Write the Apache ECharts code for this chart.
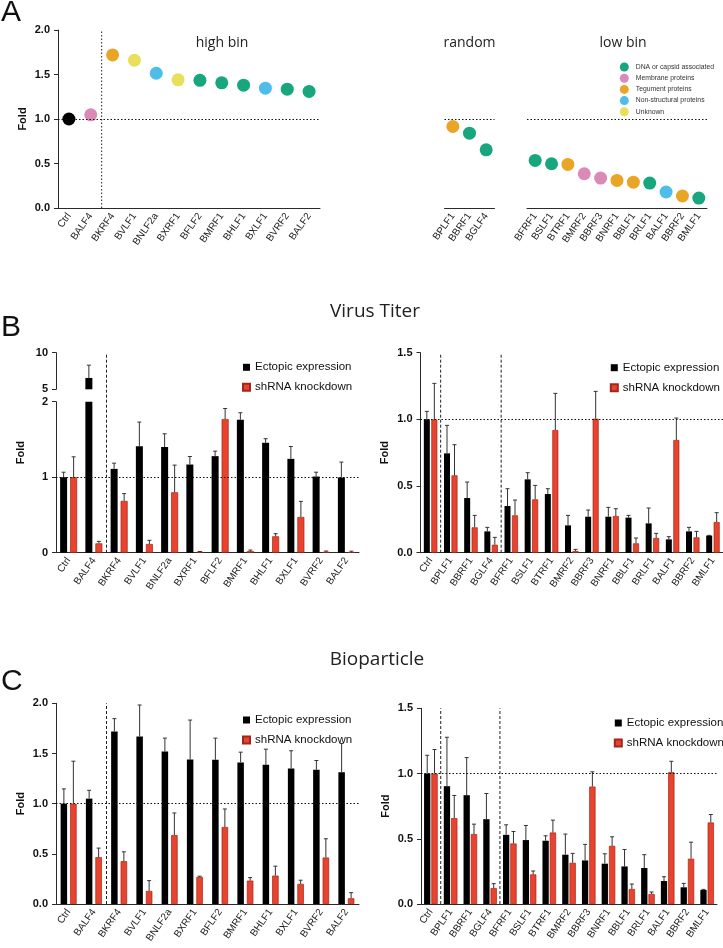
<!DOCTYPE html>
<html><head><meta charset="utf-8">
<script src="https://cdn.jsdelivr.net/npm/echarts@6/dist/echarts.min.js"></script>
<style>html,body{margin:0;padding:0;background:#fff}#c{width:723px;height:948px}</style>
</head><body><div id="c"></div>
<script>
// ---------- Panel A data ----------
const aHighCats = ['Ctrl','BALF4','BKRF4','BVLF1','BNLF2a','BXRF1','BFLF2','BMRF1','BHLF1','BXLF1','BVRF2','BALF2'];
const aHighFold = [1.00,1.047,1.72,1.66,1.514,1.44,1.435,1.406,1.38,1.346,1.335,1.31];
const aHighType = ['Control','Membrane proteins','Tegument proteins','Unknown','Non-structural proteins','Unknown','DNA or capsid associated','DNA or capsid associated','DNA or capsid associated','Non-structural proteins','DNA or capsid associated','DNA or capsid associated'];
const aRandCats = ['BPLF1','BBRF1','BGLF4'];
const aRandFold = [0.916,0.841,0.654];
const aRandType = ['Tegument proteins','DNA or capsid associated','DNA or capsid associated'];
const aLowCats = ['BFRF1','BSLF1','BTRF1','BMRF2','BBRF3','BNRF1','BBLF1','BRLF1','BALF1','BBRF2','BMLF1'];
const aLowFold = [0.535,0.497,0.49,0.385,0.336,0.31,0.29,0.28,0.18,0.135,0.112];
const aLowType = ['DNA or capsid associated','DNA or capsid associated','Tegument proteins','Membrane proteins','Membrane proteins','Tegument proteins','Tegument proteins','DNA or capsid associated','Non-structural proteins','Tegument proteins','DNA or capsid associated'];
const typeNames = ['DNA or capsid associated','Membrane proteins','Tegument proteins','Non-structural proteins','Unknown'];

// ---------- Panel B data (Virus Titer) ----------
const bLeftCats = ['Ctrl','BALF4','BKRF4','BVLF1','BNLF2a','BXRF1','BFLF2','BMRF1','BHLF1','BXLF1','BVRF2','BALF2'];
const bLeftEcto   = [1.00,6.55,1.11,1.41,1.40,1.168,1.279,1.76,1.456,1.243,1.009,0.996];
const bLeftEctoUp = [1.066,8.3,1.186,1.73,1.575,1.274,1.345,1.854,1.51,1.407,1.066,1.2];
const bLeftKd     = [1.00,0.124,0.686,0.115,0.80,0.01,1.77,0.02,0.217,0.473,0.01,0.006];
const bLeftKdUp   = [1.27,0.15,0.783,0.164,1.16,0.016,1.91,0.035,0.252,0.68,0.022,0.02];

const bRightCats = ['Ctrl','BPLF1','BBRF1','BGLF4','BFRF1','BSLF1','BTRF1','BMRF2','BBRF3','BNRF1','BBLF1','BRLF1','BALF1','BBRF2','BMLF1'];
const bRightEcto   = [1.0,0.745,0.41,0.16,0.35,0.55,0.44,0.205,0.27,0.27,0.263,0.22,0.10,0.16,0.128];
const bRightEctoUp = [1.06,0.955,0.53,0.19,0.48,0.60,0.48,0.28,0.32,0.34,0.28,0.335,0.12,0.19,0.13];
const bRightKd     = [1.0,0.58,0.19,0.06,0.28,0.40,0.92,0.013,1.005,0.275,0.07,0.11,0.845,0.115,0.23];
const bRightKdUp   = [1.27,0.81,0.28,0.115,0.395,0.505,1.195,0.025,1.21,0.33,0.11,0.145,1.01,0.16,0.30];

// ---------- Panel C data (Bioparticle) ----------
const cLeftCats = bLeftCats;
const cLeftEcto   = [1.0,1.05,1.72,1.67,1.52,1.44,1.437,1.41,1.387,1.35,1.337,1.313];
const cLeftEctoUp = [1.147,1.133,1.847,1.983,1.653,1.833,1.653,1.513,1.543,1.527,1.43,1.6];
const cLeftKd     = [1.0,0.467,0.427,0.13,0.687,0.27,0.767,0.233,0.283,0.2,0.463,0.057];
const cLeftKdUp   = [1.423,0.557,0.52,0.233,0.907,0.277,0.947,0.263,0.377,0.237,0.65,0.113];

const cRightCats = bRightCats;
const cRightEcto   = [1.0,0.903,0.834,0.65,0.53,0.49,0.485,0.378,0.334,0.309,0.288,0.276,0.176,0.128,0.107];
const cRightEctoUp = [1.14,1.278,1.122,0.847,0.607,0.602,0.523,0.536,0.457,0.385,0.418,0.378,0.209,0.158,0.112];
const cRightKd     = [1.0,0.658,0.536,0.122,0.464,0.227,0.548,0.316,0.9,0.446,0.115,0.077,1.01,0.347,0.625];
const cRightKdUp   = [1.184,0.832,0.612,0.156,0.556,0.253,0.643,0.388,1.013,0.515,0.153,0.092,1.094,0.474,0.686];

// ---------- styling ----------
const typeColor = {
  'Control':'#000000',
  'DNA or capsid associated':'#17a67e',
  'Membrane proteins':'#d98ab6',
  'Tegument proteins':'#e9a526',
  'Non-structural proteins':'#4fbde9',
  'Unknown':'#e8df5b'
};
const BLACK = '#000000', RED = '#e8432e', RED_BORDER = '#a3261a';
const FONT = 'Liberation Sans, Arial, sans-serif';
const TFONT = '"Open Sans", sans-serif';

const chart = echarts.init(document.getElementById('c'), null, {renderer:'canvas'});

const grids = [
  {left:58, top:30, width:262, height:178},      // 0 A high
  {left:444.5, top:30, width:50, height:178},    // 1 A random
  {left:527, top:30, width:180, height:178},     // 2 A low
  {left:56, top:352.7, width:303, height:36.6},  // 3 B left upper
  {left:56, top:401.7, width:303, height:151},   // 4 B left lower
  {left:56, top:352.7, width:303, height:200},   // 5 B left overlay
  {left:420.5, top:352.7, width:302.5, height:200}, // 6 B right
  {left:56, top:703.3, width:303, height:200.7}, // 7 C left
  {left:421, top:708.3, width:296, height:195.7} // 8 C right
];

const axLine = {lineStyle:{color:'#2a2a2a', width:1}};
const axTick = {length:4, lineStyle:{color:'#2a2a2a', width:1}};
function xCat(gi, cats, show){
  return {type:'category', gridIndex:gi, data:cats, show:show!==false,
    axisLine:axLine, axisTick:Object.assign({alignWithLabel:true, interval:0}, axTick),
    axisLabel:{interval:0, rotate:55, fontSize:10, color:'#222', fontFamily:FONT, margin:6},
    splitLine:{show:false}};
}
function yVal(gi, min, max, step, opts){
  return Object.assign({type:'value', gridIndex:gi, min:min, max:max, interval:step,
    axisLine:Object.assign({show:true}, axLine), axisTick:Object.assign({show:true}, axTick),
    axisLabel:{fontSize:11, fontWeight:'bold', color:'#111', fontFamily:FONT, margin:8,
      formatter: v => step < 1 ? v.toFixed(1) : String(v)},
    splitLine:{show:false},
    name:'Fold', nameLocation:'middle', nameGap:30,
    nameTextStyle:{fontSize:11, fontWeight:'bold', color:'#111', fontFamily:FONT}}, opts||{});
}

const xAxes = [
  xCat(0, aHighCats), xCat(1, aRandCats), xCat(2, aLowCats),
  xCat(3, bLeftCats, false), xCat(4, bLeftCats), xCat(5, bLeftCats, false),
  xCat(6, bRightCats), xCat(7, cLeftCats), xCat(8, cRightCats)
];
const yAxes = [
  yVal(0, 0, 2, 0.5),
  {type:'value', gridIndex:1, min:0, max:2, show:false},
  {type:'value', gridIndex:2, min:0, max:2, show:false},
  yVal(3, 5, 10, 5, {name:''}),
  yVal(4, 0, 2, 1, {name:''}),
  {type:'value', gridIndex:5, min:0, max:1, axisLine:{show:false}, axisTick:{show:false}, axisLabel:{show:false},
   splitLine:{show:false}, name:'Fold', nameLocation:'middle', nameGap:30,
   nameTextStyle:{fontSize:11, fontWeight:'bold', color:'#111', fontFamily:FONT}},
  yVal(6, 0, 1.5, 0.5),
  yVal(7, 0, 2, 0.5),
  yVal(8, 0, 1.5, 0.5)
];

const series = [];

// ---- scatter (panel A) ----
function addScatter(gi, cats, vals, types){
  ['Control'].concat(typeNames).forEach(t => {
    if (!types.includes(t)) return;
    series.push({type:'scatter', name:t, xAxisIndex:gi, yAxisIndex:gi, symbolSize:13, z:3,
      itemStyle:{color:typeColor[t], opacity:1},
      data: vals.map((v,i) => types[i] === t ? v : '-')});
  });
}
addScatter(0, aHighCats, aHighFold, aHighType);
addScatter(1, aRandCats, aRandFold, aRandType);
addScatter(2, aLowCats, aLowFold, aLowType);

// reference line at 1.0
function refLine(gi, idx){
  return {type:'line', xAxisIndex:gi, yAxisIndex:idx===undefined?gi:idx, data:[], silent:true,
    markLine:{silent:true, symbol:'none', label:{show:false}, animation:false,
      lineStyle:{color:'#111', width:1.2, type:[1.5,2]}, data:[{yAxis:1}]}};
}
[0,1,2,4,6,7,8].forEach(g => series.push(refLine(g)));

// vertical separators
function sepRender(dash){
  return function(params, api){
    const a = api.coord([api.value(0), api.value(1)]);
    const b = api.coord([api.value(0), api.value(2)]);
    const h = api.size([1,0])[0] / 2;
    return {type:'line', silent:true,
      shape:{x1:a[0]+h, y1:a[1], x2:b[0]+h, y2:b[1]},
      style:{stroke:'#222', lineWidth:1, lineDash:dash}};
  };
}
function sep(gi, items, dash){
  series.push({type:'custom', xAxisIndex:gi, yAxisIndex:gi, renderItem:sepRender(dash), silent:true, z:1,
    encode:{x:0, y:[1,2]}, data:items});
}
sep(0, [[1,0,2]], [1.5,2]);
sep(5, [[1,0,1]], [3,2]);
sep(6, [[0,0,1.5],[3,0,1.5]], [3,2]);
sep(7, [[1,0,2]], [3,2]);
sep(8, [[0,0,1.5],[3,0,1.5]], [3,2]);

// bars + error bars
function errRender(off){
  return function(params, api){
    const i = api.value(0);
    const p = api.coord([i, api.value(1)]);
    const q = api.coord([i, api.value(2)]);
    const x = p[0] + off;
    return {type:'group', silent:true, children:[
      {type:'line', shape:{x1:x, y1:p[1], x2:x, y2:q[1]}, style:{stroke:'#333', lineWidth:1}},
      {type:'line', shape:{x1:x-2, y1:q[1], x2:x+2, y2:q[1]}, style:{stroke:'#333', lineWidth:1}}
    ]};
  };
}
function addBars(gi, ecto, ectoUp, kd, kdUp, bw, gapPct, maxV){
  series.push({type:'bar', name:'Ectopic expression', xAxisIndex:gi, yAxisIndex:gi, data:ecto,
    barWidth:bw, barGap:gapPct, clip:true, itemStyle:{color:BLACK}, z:2});
  series.push({type:'bar', name:'shRNA knockdown', xAxisIndex:gi, yAxisIndex:gi, data:kd,
    barWidth:bw, barGap:gapPct, clip:true, itemStyle:{color:RED, borderColor:RED_BORDER, borderWidth:0.7}, z:2});
  const gapPx = bw * parseFloat(gapPct) / 100;
  const off = (bw + gapPx) / 2;
  const ok = (m) => maxV === undefined || m <= maxV;
  series.push({type:'custom', xAxisIndex:gi, yAxisIndex:gi, renderItem:errRender(-off), z:3, silent:true,
    encode:{x:0, y:[1,2]}, data: ecto.map((m,i)=>[i,m,ectoUp[i]]).filter(d=>ok(d[1]))});
  series.push({type:'custom', xAxisIndex:gi, yAxisIndex:gi, renderItem:errRender(off), z:3, silent:true,
    encode:{x:0, y:[1,2]}, data: kd.map((m,i)=>[i,m,kdUp[i]]).filter(d=>ok(d[1]))});
}
// B left: upper (broken) segment shows values above 5, lower segment 0-2
addBars(3, bLeftEcto, bLeftEctoUp, bLeftKd, bLeftKdUp, 7, '43%');
series[series.length-2].data = series[series.length-2].data.filter(d => d[1] >= 5);
series[series.length-1].data = series[series.length-1].data.filter(d => d[1] >= 5);
addBars(4, bLeftEcto, bLeftEctoUp, bLeftKd, bLeftKdUp, 7, '43%', 2);
addBars(6, bRightEcto, bRightEctoUp, bRightKd, bRightKdUp, 6, '25%');
addBars(7, cLeftEcto, cLeftEctoUp, cLeftKd, cLeftKdUp, 6.5, '46%');
addBars(8, cRightEcto, cRightEctoUp, cRightKd, cRightKdUp, 6.3, '16%');

const barLegend = (left, top) => ({
  data:['Ectopic expression','shRNA knockdown'], orient:'vertical', left:left, top:top,
  icon:'rect', itemWidth:7, itemHeight:7, itemGap:6, selectedMode:false,
  textStyle:{fontSize:11.5, color:'#111', fontFamily:FONT, lineHeight:14}
});

const option = {
  animation:false,
  backgroundColor:'#fff',
  grid: grids,
  xAxis: xAxes,
  yAxis: yAxes,
  legend: [
    {data:typeNames, orient:'vertical', left:614.8, top:57.5, icon:'circle', itemWidth:9, itemHeight:9,
     itemGap:2.2, selectedMode:false,
     textStyle:{fontSize:6.8, color:'#333', fontFamily:FONT, padding:[0,0,0,2]}},
    barLegend(237, 355.3),
    barLegend(604.8, 355.7),
    barLegend(237, 708),
    barLegend(608.8, 711)
  ],
  graphic: [
    {type:'text', x:1, y:12.5, style:{text:'A', font:'30px ' + FONT, fill:'#111', verticalAlign:'middle', textVerticalAlign:'middle'}},
    {type:'text', x:1, y:328, style:{text:'B', font:'30px ' + FONT, fill:'#111', verticalAlign:'middle', textVerticalAlign:'middle'}},
    {type:'text', x:1, y:682, style:{text:'C', font:'30px ' + FONT, fill:'#111', verticalAlign:'middle', textVerticalAlign:'middle'}},
    {type:'text', x:222, y:43, style:{text:'high bin', font:'14px ' + TFONT, fill:'#222', align:'center', textAlign:'center', verticalAlign:'middle', textVerticalAlign:'middle'}},
    {type:'text', x:469.5, y:43, style:{text:'random', font:'14px ' + TFONT, fill:'#222', align:'center', textAlign:'center', verticalAlign:'middle', textVerticalAlign:'middle'}},
    {type:'text', x:623, y:43, style:{text:'low bin', font:'14px ' + TFONT, fill:'#222', align:'center', textAlign:'center', verticalAlign:'middle', textVerticalAlign:'middle'}},
    {type:'text', x:375, y:312, style:{text:'Virus Titer', font:'19px ' + TFONT, fill:'#222', align:'center', textAlign:'center', verticalAlign:'middle', textVerticalAlign:'middle'}},
    {type:'text', x:377, y:660, style:{text:'Bioparticle', font:'19px ' + TFONT, fill:'#222', align:'center', textAlign:'center', verticalAlign:'middle', textVerticalAlign:'middle'}}
  ],
  series: series
};
chart.setOption(option);
</script></body></html>
